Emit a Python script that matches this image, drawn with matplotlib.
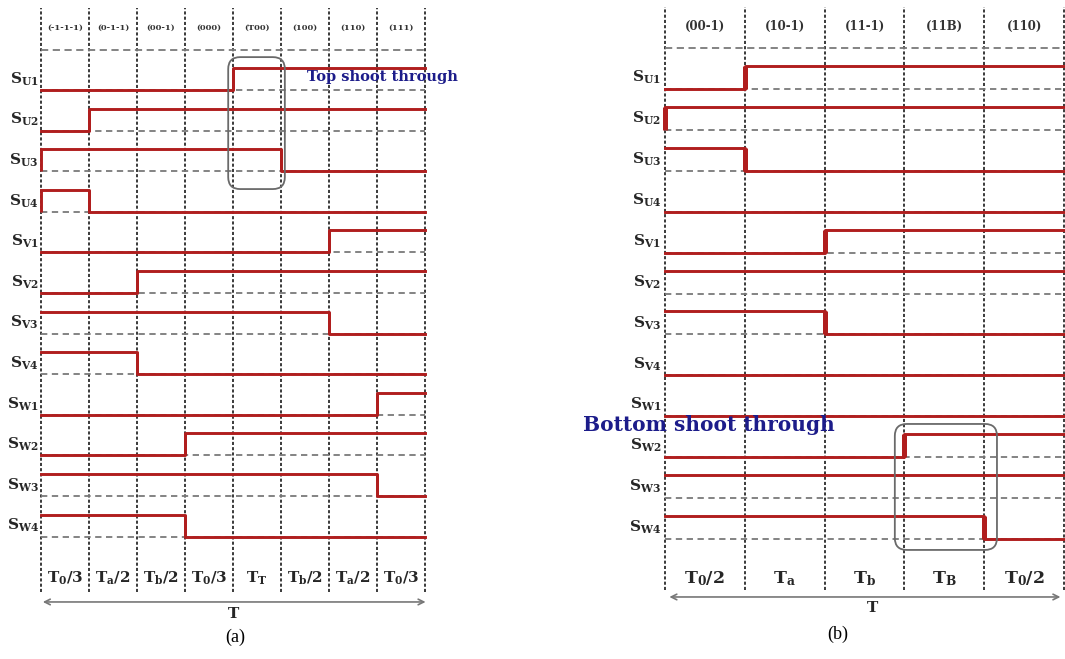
import matplotlib
matplotlib.use('Agg')
import matplotlib.pyplot as plt
from matplotlib.patches import FancyBboxPatch

plt.rcParams['mathtext.fontset'] = 'dejavuserif'
plt.rcParams['mathtext.default'] = 'bf'

# ---------------- data ----------------
switches = ['U1', 'U2', 'U3', 'U4', 'V1', 'V2', 'V3', 'V4', 'W1', 'W2', 'W3', 'W4']

states_a = ['(-1-1-1)', '(0-1-1)', '(00-1)', '(000)', '(T00)', '(100)', '(110)', '(111)']
durations_a = [r'$T_0/3$', r'$T_a/2$', r'$T_b/2$', r'$T_0/3$', r'$T_T$',
               r'$T_b/2$', r'$T_a/2$', r'$T_0/3$']
signals_a = [
    [0, 0, 0, 0, 1, 1, 1, 1],
    [0, 1, 1, 1, 1, 1, 1, 1],
    [1, 1, 1, 1, 1, 0, 0, 0],
    [1, 0, 0, 0, 0, 0, 0, 0],
    [0, 0, 0, 0, 0, 0, 1, 1],
    [0, 0, 1, 1, 1, 1, 1, 1],
    [1, 1, 1, 1, 1, 1, 0, 0],
    [1, 1, 0, 0, 0, 0, 0, 0],
    [0, 0, 0, 0, 0, 0, 0, 1],
    [0, 0, 0, 1, 1, 1, 1, 1],
    [1, 1, 1, 1, 1, 1, 1, 0],
    [1, 1, 1, 0, 0, 0, 0, 0],
]
initial_a = [0, 0, 0, 0, 0, 0, 1, 1, 0, 0, 1, 1]

states_b = ['(00-1)', '(10-1)', '(11-1)', '(11B)', '(110)']
durations_b = [r'$T_0/2$', r'$T_a$', r'$T_b$', r'$T_B$', r'$T_0/2$']
signals_b = [
    [0, 1, 1, 1, 1],
    [1, 1, 1, 1, 1],
    [1, 0, 0, 0, 0],
    [0, 0, 0, 0, 0],
    [0, 0, 1, 1, 1],
    [1, 1, 1, 1, 1],
    [1, 1, 0, 0, 0],
    [0, 0, 0, 0, 0],
    [0, 0, 0, 0, 0],
    [0, 0, 0, 1, 1],
    [1, 1, 1, 1, 1],
    [1, 1, 1, 1, 0],
]
initial_b = [0, 0, 1, 0, 0, 1, 1, 0, 0, 0, 1, 1]

# ---------------- style ----------------
W, H = 1065, 659
RED = '#b01e1e'
GREY = '#7a7a7a'
GRID = '#3a3a3a'
NAVY = '#1c1c8a'
TXT = '#262626'

fig = plt.figure(figsize=(W / 100, H / 100), dpi=100)


def make_axes(x0, seg, y0, row):
    ax = fig.add_axes([0, 0, 1, 1])
    ax.set_xlim(-x0 / seg, (W - x0) / seg)
    ax.set_ylim((y0 - H) / row, y0 / row)
    ax.axis('off')
    ax.patch.set_alpha(0)
    return ax


def draw_panel(ax, signals, initial, states, durations, amp, v_lw, lab_dx,
               top, bottom, head_y, head_fs, lab_fs, dur_fs, dur_y):
    n = len(states)
    # vertical grid lines
    ax.vlines(range(n + 1), bottom, top, colors=GRID, linestyles=(0, (1.6, 1.1)),
              lw=1.4, zorder=1)
    # header separator
    ax.plot([0, n], [head_y, head_y], color=GREY, ls=(0, (4, 2.5)), lw=1.3, zorder=1)
    for k, s in enumerate(states):
        ax.text(k + 0.5, (head_y + top) / 2 + 0.02, s, ha='center', va='center',
                fontsize=head_fs, family='DejaVu Serif', fontweight='bold', color='#333')
    for k, d in enumerate(durations):
        ax.text(k + 0.5, dur_y, d, ha='center', va='center', fontsize=dur_fs, color=TXT)
    for i, sig in enumerate(signals):
        base = -i
        ax.plot([0, n], [base, base], color=GREY, ls=(0, (3.5, 2.5)), lw=1.3, zorder=2)
        xs = list(range(n + 1))
        ys = [base + amp * v for v in sig] + [base + amp * sig[-1]]
        ax.step(xs, ys, where='post', color=RED, lw=2.1, zorder=3)
        prev = initial[i]
        for k, v in enumerate(sig):
            if v != prev:
                ax.plot([k, k], [base, base + amp], color=RED, lw=v_lw, zorder=4,
                        solid_capstyle='butt')
            prev = v
        ax.text(-lab_dx, base + amp / 2, r'$S_{%s}$' % switches[i],
                ha='right', va='center', fontsize=lab_fs, color=TXT)


# ---------------- panel (a) ----------------
A_X0, A_SEG, A_Y0, A_ROW = 41, 48.0, 90, 40.6
ax_a = make_axes(A_X0, A_SEG, A_Y0, A_ROW)
draw_panel(ax_a, signals_a, initial_a, states_a, durations_a, amp=0.54, v_lw=2.1,
           lab_dx=0.05, top=2.02, bottom=-12.36, head_y=0.985, head_fs=6, lab_fs=11,
           dur_fs=11, dur_y=-12.02)
ax_a.add_patch(FancyBboxPatch((3.9, -2.44), 1.18, 3.25,
                              boxstyle='round,pad=0,rounding_size=0.25',
                              mutation_aspect=A_SEG / A_ROW,
                              fc='none', ec='#6a6a6a', lw=1.3, zorder=5))
ax_a.text(5.54, 0.32, 'Top shoot through', ha='left', va='center', fontsize=10.5,
          family='DejaVu Serif', fontweight='bold', color=NAVY, zorder=6)
ax_a.annotate('', xy=(8.07, -12.61), xytext=(-0.02, -12.61), annotation_clip=False,
              arrowprops=dict(arrowstyle='<->', color='#777', lw=1.2))
ax_a.text(4.0, -12.9, 'T', ha='center', va='center', fontsize=11,
          family='DejaVu Serif', fontweight='bold', color=TXT)
ax_a.text(4.04, -13.47, '(a)', ha='center', va='center', fontsize=13,
          family='Liberation Serif', color='black')

# ---------------- panel (b) ----------------
B_X0, B_SEG, B_Y0, B_ROW = 665, 79.8, 89, 40.9
ax_b = make_axes(B_X0, B_SEG, B_Y0, B_ROW)
draw_panel(ax_b, signals_b, initial_b, states_b, durations_b, amp=0.56, v_lw=3.6,
           lab_dx=0.05, top=2.0, bottom=-12.25, head_y=1.0, head_fs=8.5, lab_fs=11,
           dur_fs=12.5, dur_y=-11.96)
ax_b.add_patch(FancyBboxPatch((2.88, -11.27), 1.28, 3.08,
                              boxstyle='round,pad=0,rounding_size=0.15',
                              mutation_aspect=B_SEG / B_ROW,
                              fc='none', ec='#6a6a6a', lw=1.3, zorder=5))
ax_b.text(-1.03, -8.22, 'Bottom shoot through', ha='left', va='center', fontsize=14.5,
          family='DejaVu Serif', fontweight='bold', color=NAVY, zorder=6)
ax_b.annotate('', xy=(4.99, -12.42), xytext=(0.02, -12.42), annotation_clip=False,
              arrowprops=dict(arrowstyle='<->', color='#777', lw=1.2))
ax_b.text(2.6, -12.68, 'T', ha='center', va='center', fontsize=11,
          family='DejaVu Serif', fontweight='bold', color=TXT)
ax_b.text(2.16, -13.33, '(b)', ha='center', va='center', fontsize=13,
          family='Liberation Serif', color='black')

fig.savefig('out.png', dpi=100)
